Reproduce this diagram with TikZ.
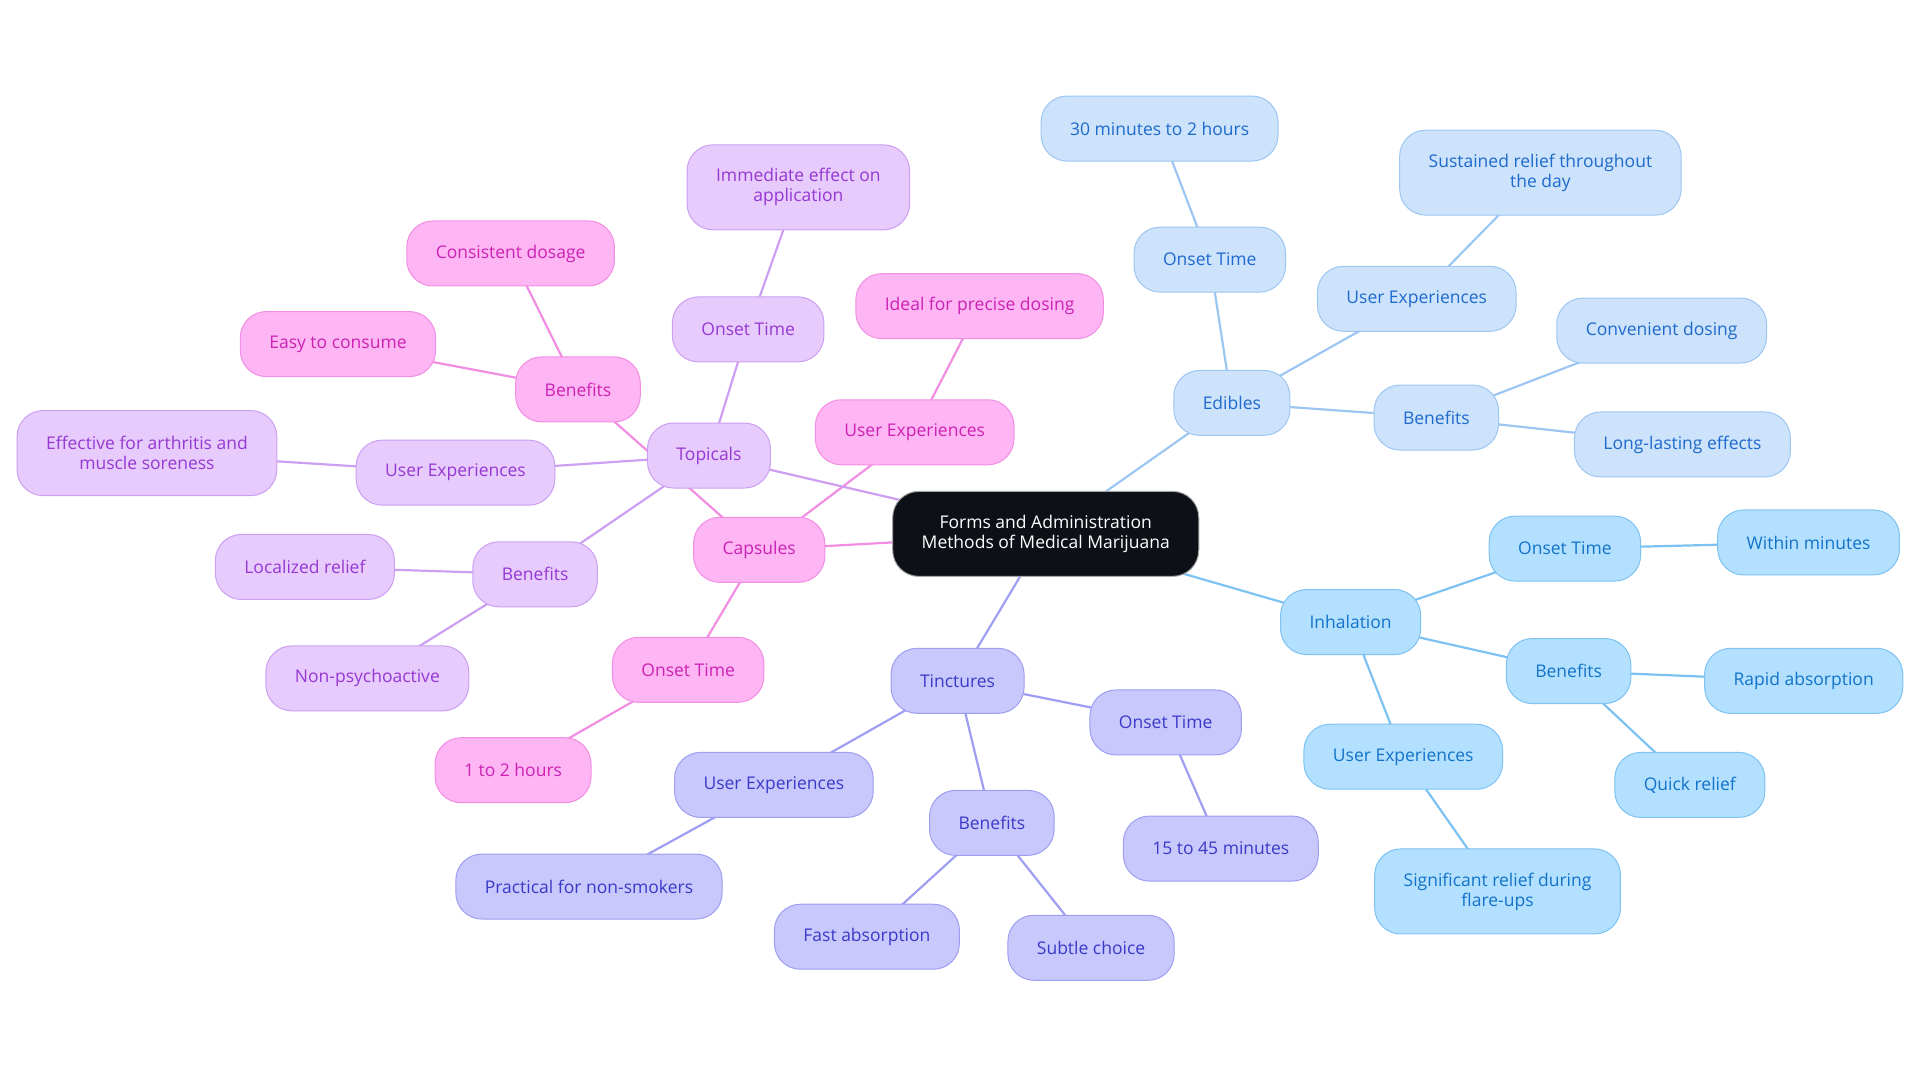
\documentclass[tikz,border=0pt]{standalone}
\usepackage{fontspec}
\setmainfont{Open Sans}
\usetikzlibrary{backgrounds}

\definecolor{rootFill}{HTML}{0D1117}
\definecolor{edFill}{HTML}{CCE3FB}
\definecolor{edLine}{HTML}{9DC6F2}
\definecolor{edText}{HTML}{1F6ACD}
\definecolor{inFill}{HTML}{B3E0FF}
\definecolor{inLine}{HTML}{7CC2F2}
\definecolor{inText}{HTML}{1273C8}
\definecolor{tiFill}{HTML}{C8C8FC}
\definecolor{tiLine}{HTML}{9E9EF2}
\definecolor{tiText}{HTML}{3A3AC8}
\definecolor{caFill}{HTML}{FDB5F3}
\definecolor{caLine}{HTML}{F28EE2}
\definecolor{caText}{HTML}{CC22B4}
\definecolor{toFill}{HTML}{E6CBFC}
\definecolor{toLine}{HTML}{CC9FF2}
\definecolor{toText}{HTML}{9638D2}

\tikzset{
  mm/.style={rounded corners=26bp, draw, line width=1bp, minimum height=65bp,
    inner xsep=29bp, align=center, font=\fontsize{17.5bp}{20bp}\selectfont},
  tall/.style={minimum height=85bp},
  root/.style={mm, fill=rootFill, draw=gray!70, text=white, minimum height=85bp},
  edib/.style={mm, fill=edFill, draw=edLine, text=edText},
  inha/.style={mm, fill=inFill, draw=inLine, text=inText},
  tinc/.style={mm, fill=tiFill, draw=tiLine, text=tiText},
  caps/.style={mm, fill=caFill, draw=caLine, text=caText},
  topi/.style={mm, fill=toFill, draw=toLine, text=toText},
  link/.style={line width=2.2bp}
}

\begin{document}
\begin{tikzpicture}[x=1.2245bp, y=-1.2245bp]
\useasboundingbox (0,0) rectangle (1568,884.4);

% centre
\node[root] (root) at (854,436) {Forms and Administration\\Methods of Medical Marijuana};

% edibles
\node[edib] (ed) at (1006,329) {Edibles};
\node[edib] (edOn) at (988,212) {Onset Time};
\node[edib] (edOnV) at (947,105) {30 minutes to 2 hours};
\node[edib] (edUx) at (1157,244) {User Experiences};
\node[edib, tall] (edUxV) at (1258,141) {Sustained relief throughout\\the day};
\node[edib] (edBen) at (1173,341) {Benefits};
\node[edib] (edBenA) at (1357,270) {Convenient dosing};
\node[edib] (edBenB) at (1374,363) {Long-lasting effects};

% inhalation
\node[inha] (in) at (1103,508) {Inhalation};
\node[inha] (inOn) at (1278,448) {Onset Time};
\node[inha] (inOnV) at (1477,443) {Within minutes};
\node[inha] (inBen) at (1281,548) {Benefits};
\node[inha] (inBenA) at (1473,556) {Rapid absorption};
\node[inha] (inBenB) at (1380,641) {Quick relief};
\node[inha] (inUx) at (1146,618) {User Experiences};
\node[inha, tall] (inUxV) at (1223,728) {Significant relief during\\flare-ups};

% tinctures
\node[tinc] (ti) at (782,556) {Tinctures};
\node[tinc] (tiOn) at (952,590) {Onset Time};
\node[tinc] (tiOnV) at (997,693) {15 to 45 minutes};
\node[tinc] (tiBen) at (810,672) {Benefits};
\node[tinc] (tiBenA) at (708,765) {Fast absorption};
\node[tinc] (tiBenB) at (891,774) {Subtle choice};
\node[tinc] (tiUx) at (632,641) {User Experiences};
\node[tinc] (tiUxV) at (481,724) {Practical for non-smokers};

% capsules
\node[caps] (ca) at (620,449) {Capsules};
\node[caps] (caUx) at (747,353) {User Experiences};
\node[caps] (caUxV) at (800,250) {Ideal for precise dosing};
\node[caps] (caOn) at (562,547) {Onset Time};
\node[caps] (caOnV) at (419,629) {1 to 2 hours};
\node[caps] (caBen) at (472,318) {Benefits};
\node[caps] (caBenA) at (417,207) {Consistent dosage};
\node[caps] (caBenB) at (276,281) {Easy to consume};

% topicals
\node[topi] (to) at (579,372) {Topicals};
\node[topi] (toOn) at (611,269) {Onset Time};
\node[topi, tall] (toOnV) at (652,153) {Immediate effect on\\application};
\node[topi] (toUx) at (372,386) {User Experiences};
\node[topi, tall] (toUxV) at (120,370) {Effective for arthritis and\\muscle soreness};
\node[topi] (toBen) at (437,469) {Benefits};
\node[topi] (toBenA) at (249,463) {Localized relief};
\node[topi] (toBenB) at (300,554) {Non-psychoactive};

\begin{scope}[on background layer]
  \draw[link, edLine] (root.center) -- (ed.center);
  \draw[link, edLine] (ed.center) -- (edOn.center) -- (edOnV.center);
  \draw[link, edLine] (ed.center) -- (edUx.center) -- (edUxV.center);
  \draw[link, edLine] (ed.center) -- (edBen.center) -- (edBenA.center);
  \draw[link, edLine] (edBen.center) -- (edBenB.center);

  \draw[link, inLine] (root.center) -- (in.center);
  \draw[link, inLine] (in.center) -- (inOn.center) -- (inOnV.center);
  \draw[link, inLine] (in.center) -- (inBen.center) -- (inBenA.center);
  \draw[link, inLine] (inBen.center) -- (inBenB.center);
  \draw[link, inLine] (in.center) -- (inUx.center) -- (inUxV.center);

  \draw[link, tiLine] (root.center) -- (ti.center);
  \draw[link, tiLine] (ti.center) -- (tiOn.center) -- (tiOnV.center);
  \draw[link, tiLine] (ti.center) -- (tiBen.center) -- (tiBenA.center);
  \draw[link, tiLine] (tiBen.center) -- (tiBenB.center);
  \draw[link, tiLine] (ti.center) -- (tiUx.center) -- (tiUxV.center);

  \draw[link, caLine] (root.center) -- (ca.center);
  \draw[link, caLine] (ca.center) -- (caUx.center) -- (caUxV.center);
  \draw[link, caLine] (ca.center) -- (caOn.center) -- (caOnV.center);
  \draw[link, caLine] (ca.center) -- (caBen.center) -- (caBenA.center);
  \draw[link, caLine] (caBen.center) -- (caBenB.center);

  \draw[link, toLine] (root.center) -- (to.center);
  \draw[link, toLine] (to.center) -- (toOn.center) -- (toOnV.center);
  \draw[link, toLine] (to.center) -- (toUx.center) -- (toUxV.center);
  \draw[link, toLine] (to.center) -- (toBen.center) -- (toBenA.center);
  \draw[link, toLine] (toBen.center) -- (toBenB.center);
\end{scope}
\end{tikzpicture}
\end{document}
